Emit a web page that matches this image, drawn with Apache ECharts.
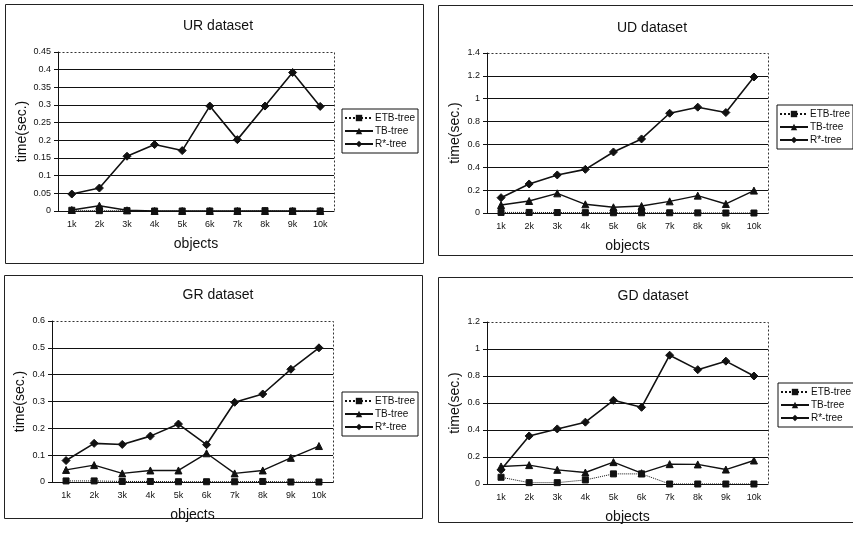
<!DOCTYPE html>
<html>
<head>
<meta charset="utf-8">
<script src="https://cdn.jsdelivr.net/npm/echarts@6/dist/echarts.min.js"></script>
<style>
html,body{margin:0;padding:0;background:#fff;}
#c{width:853px;height:533px;}
</style>
</head>
<body>
<div id="c"></div>
<script>
// ---- data ----
var categories = ['1k','2k','3k','4k','5k','6k','7k','8k','9k','10k'];
var seriesNames = ['ETB-tree','TB-tree','R*-tree'];
var panelTitles = ['UR dataset','UD dataset','GR dataset','GD dataset'];

var urETB = [0.002,0.001,0.001,0,0,0,0,0.001,0,0];
var urTB  = [0.003,0.015,0.002,0,0,0,0,0,0,0];
var urR   = [0.048,0.065,0.155,0.188,0.171,0.297,0.202,0.297,0.392,0.296];

var udETB = [0.005,0.005,0.004,0.003,0.002,0.002,0.002,0.001,0,0];
var udTB  = [0.07,0.105,0.172,0.076,0.05,0.061,0.102,0.152,0.079,0.196];
var udR   = [0.134,0.254,0.333,0.382,0.534,0.648,0.873,0.926,0.879,1.19];

var grETB = [0.004,0.004,0.002,0.002,0.001,0.001,0.001,0.002,0,0];
var grTB  = [0.045,0.063,0.032,0.043,0.043,0.107,0.032,0.043,0.09,0.134];
var grR   = [0.08,0.144,0.14,0.171,0.216,0.139,0.297,0.328,0.42,0.5];

var gdETB = [0.05,0.01,0.01,0.03,0.075,0.075,0,0,0,0];
var gdTB  = [0.13,0.14,0.105,0.085,0.162,0.08,0.147,0.145,0.107,0.174];
var gdR   = [0.105,0.356,0.408,0.458,0.62,0.568,0.954,0.847,0.91,0.8];

var yMax      = [0.45, 1.4, 0.6, 1.2];
var yInterval = [0.05, 0.2, 0.1, 0.2];

var panelData = [[urETB,urTB,urR],[udETB,udTB,udR],[grETB,grTB,grR],[gdETB,gdTB,gdR]];

// ---- layout ----
var grids = [
  {left:58, top:52, width:276, height:159},
  {left:487, top:53, width:281, height:160},
  {left:52, top:321, width:281, height:161},
  {left:487, top:322, width:281, height:162}
];
var frames = [
  {x:5, y:4, w:418, h:259},
  {x:438, y:5, w:420, h:250},
  {x:4, y:275, w:418, h:243},
  {x:438, y:277, w:420, h:245}
];
var titlePos = [[213,14],[647,16],[213,283],[648,284]];
var legendPos = [[342,109],[777,105],[342,392],[778,383]];

var font = 'Liberation Sans, Arial, sans-serif';
var ink = '#111';

var option = {
  backgroundColor:'#fff',
  animation:false,
  textStyle:{fontFamily:font, color:ink},
  title:[], grid:[], xAxis:[], yAxis:[], series:[], legend:[], graphic:[]
};

var symbols = ['rect','triangle','diamond'];
var symSizes = [6,7,8];
var lineTypes = ['dotted','solid','solid'];
var lineWidths = [1,1.4,1.6];

for (var i=0;i<4;i++){
  var g = grids[i];
  option.grid.push({left:g.left, top:g.top, width:g.width, height:g.height, containLabel:false});
  option.title.push({
    text:panelTitles[i], left:titlePos[i][0], top:titlePos[i][1], textAlign:'center',
    textStyle:{fontSize:14, fontWeight:'normal', color:ink, fontFamily:font}
  });
  option.xAxis.push({
    type:'category', gridIndex:i, data:categories, boundaryGap:true,
    name:'objects', nameLocation:'middle', nameGap:26,
    nameTextStyle:{fontSize:14, color:ink, fontFamily:font},
    axisLine:{lineStyle:{color:ink, width:1}},
    axisTick:{show:false},
    axisLabel:{fontSize:9, color:ink, margin:9}
  });
  option.yAxis.push({
    type:'value', gridIndex:i, min:0, max:yMax[i], interval:yInterval[i],
    name:'time(sec.)', nameLocation:'middle', nameGap:25, nameRotate:90,
    nameTextStyle:{fontSize:14, color:ink, fontFamily:font},
    axisLine:{show:true, lineStyle:{color:ink, width:1}},
    axisTick:{show:true, inside:false, length:4, lineStyle:{color:ink}},
    axisLabel:{fontSize:9, color:ink, margin:7},
    splitLine:{show:true, showMaxLine:false, showMinLine:false, lineStyle:{color:ink, width:1.2, type:'solid'}}
  });
  for (var s=0;s<3;s++){
    option.series.push({
      name:seriesNames[s], type:'line', xAxisIndex:i, yAxisIndex:i,
      data:panelData[i][s], symbol:symbols[s], symbolSize:symSizes[s],
      showAllSymbol:true, z: 3+s,
      lineStyle:{color:ink, width:lineWidths[s], type:lineTypes[s]},
      itemStyle:{color:ink, borderColor:ink}
    });
  }
  option.legend.push({
    data:seriesNames, orient:'vertical', left:legendPos[i][0], top:legendPos[i][1],
    borderColor:ink, borderWidth:1, padding:[4,3,4,2], itemGap:3,
    itemWidth:28, itemHeight:8, selectedMode:false,
    textStyle:{fontSize:10, color:ink, fontFamily:font, padding:[0,0,0,-3]}
  });
  // panel frame
  option.graphic.push({
    type:'rect', shape:{x:frames[i].x+0.5, y:frames[i].y+0.5, width:frames[i].w, height:frames[i].h},
    style:{fill:'none', stroke:'#222', lineWidth:1}, silent:true, z:-1
  });
  // dotted plot frame (top and right)
  option.graphic.push({
    type:'polyline', shape:{points:[[g.left+0.5,g.top+0.5],[g.left+g.width+0.5,g.top+0.5],[g.left+g.width+0.5,g.top+g.height+0.5]]},
    style:{fill:'none', stroke:'#333', lineWidth:1, lineDash:[2,2]}, silent:true
  });
}

var chart = echarts.init(document.getElementById('c'), null, {renderer:'canvas'});
chart.setOption(option);
</script>
</body>
</html>
